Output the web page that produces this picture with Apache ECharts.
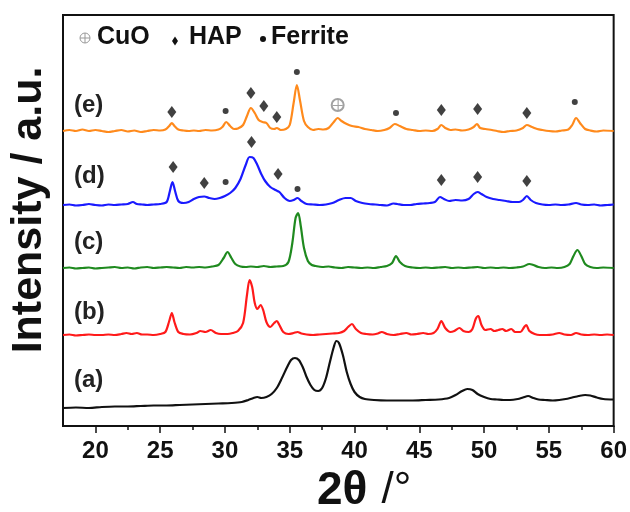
<!DOCTYPE html>
<html><head><meta charset="utf-8">
<script src="https://cdn.jsdelivr.net/npm/echarts@6/dist/echarts.min.js"></script>
<style>html,body{margin:0;padding:0;background:#fff}#c{width:630px;height:512px}</style>
</head><body><div id="c"></div>
<script>
// ---- data (2θ in degrees, intensity in arbitrary units above each pattern's baseline) ----
const patternLabels = ['(e)', '(d)', '(c)', '(b)', '(a)'];
const patternOffsets = [295, 221, 158, 91, 18];
const xTicks = [20, 25, 30, 35, 40, 45, 50, 55, 60];
const xMinorTicks = [22.5, 27.5, 32.5, 37.5, 42.5, 47.5, 52.5, 57.5];

const patternE = [[17.5,0],[18,1],[18.5,0],[19,1.5],[19.5,0],[20,1],[20.5,0],[21,-1],[21.5,0],[22,1],[22.5,-0.5],[23,0.5],[23.5,-1],[24,0],[24.5,1],[25,0.5],[25.4,1.5],[25.7,5],[25.9,8],[26.1,5],[26.4,1.5],[26.8,0.5],[27.2,0],[27.6,0.5],[28,0],[28.5,1],[29,0.5],[29.5,1.5],[29.8,4],[30.1,9],[30.4,5],[30.7,2],[31,2.5],[31.4,6],[31.7,15],[32,23],[32.3,18],[32.6,11],[32.9,9],[33.2,8],[33.5,3],[33.8,2],[34,3],[34.3,1],[34.7,2],[35,6],[35.3,28],[35.55,46],[35.8,30],[36.1,10],[36.4,4],[36.8,1],[37.2,2],[37.6,1.5],[38,3],[38.4,9],[38.7,13],[39,10],[39.4,7],[39.8,5],[40.3,4],[40.8,2],[41.3,1],[41.8,0],[42.3,1],[42.7,3],[43.1,7],[43.5,5],[44,2],[44.5,1],[45,0],[45.5,0.5],[46,0],[46.4,2],[46.7,6],[47,3],[47.4,1],[47.8,1.5],[48.3,0.5],[48.8,1.5],[49.2,4],[49.45,7],[49.7,3],[50.1,2],[50.6,1],[51,0],[51.5,-1],[52,0],[52.5,0.5],[53,3],[53.3,6],[53.7,4],[54.1,2],[54.5,1],[55,0],[55.5,-0.5],[56,0.5],[56.5,1.5],[56.8,6],[57.1,13],[57.4,8],[57.8,2],[58.2,0.5],[58.7,-0.5],[59.2,0.5],[60,0]];

const patternD = [[17.5,0],[18,0.5],[18.5,-0.5],[19,0],[19.5,1],[20,0],[20.5,-0.5],[21,0.5],[21.5,0],[22,0.5],[22.5,1],[22.9,3],[23.2,1],[23.6,0.5],[24,0],[24.5,0.5],[25,1],[25.5,3],[25.75,14],[25.95,23],[26.15,14],[26.4,4],[26.8,2],[27.2,3],[27.6,6],[28,8],[28.4,8.5],[28.8,7],[29.2,6],[29.6,7],[30,9],[30.4,12],[30.8,17],[31.2,26],[31.6,40],[31.9,48],[32.2,47],[32.5,40],[32.8,31],[33.1,24],[33.5,18],[33.9,15],[34.2,13],[34.6,7],[35,4],[35.3,5],[35.6,7],[35.9,4],[36.3,1],[36.8,0.5],[37.3,0],[37.8,0.5],[38.3,2],[38.8,5],[39.3,7],[39.7,7],[40.1,4],[40.6,2],[41.1,1],[41.6,0.5],[42,0],[42.5,-0.5],[43,1.5],[43.3,1],[43.8,0],[44.3,0],[44.8,1],[45.3,1.5],[45.8,2],[46.2,3],[46.6,8],[46.9,6],[47.3,4],[47.8,5],[48.3,4.5],[48.8,6],[49.2,11],[49.5,13],[49.8,11],[50.2,8],[50.7,6],[51.2,5],[51.7,4],[52.2,3],[52.7,3],[53,5],[53.3,9],[53.6,5],[54,2],[54.5,0.5],[55,0],[55.5,0.5],[56,0],[56.5,0.5],[57.1,2],[57.5,0.5],[58,0],[58.5,0.5],[59,-0.5],[59.5,0],[60,0.5]];

const patternC = [[17.5,0],[18,0.5],[18.5,-0.5],[19,0],[19.5,0.5],[20,-0.5],[20.5,0],[21,0.5],[21.5,1],[22,0],[22.5,0.5],[23,-0.5],[23.5,0.5],[24,1],[24.5,0],[25,0.5],[25.5,1],[26,0.5],[26.5,0],[27,1],[27.5,0.5],[28,1],[28.5,0.5],[29,1.5],[29.5,3],[29.9,10],[30.2,16],[30.5,10],[30.8,4],[31.2,1.5],[31.6,1],[32,1.5],[32.5,1],[33,2],[33.5,1],[34,1.5],[34.5,2],[34.9,6],[35.2,25],[35.45,50],[35.65,55],[35.85,42],[36.1,20],[36.4,7],[36.7,3],[37,2],[37.5,1],[38,1.5],[38.5,0.5],[39,0],[39.5,1],[40,0.5],[40.5,0],[41,0.5],[41.5,0],[42,1],[42.5,2],[42.9,5],[43.2,12],[43.5,6],[43.9,2],[44.5,0.5],[45,0],[45.5,0.5],[46,0],[46.5,0.5],[47,1],[47.5,0],[48,0.5],[48.5,0],[49,0.5],[49.5,1],[50,0],[50.5,0.5],[51,0],[51.5,0.5],[52,0],[52.5,0.5],[53,1.5],[53.5,4],[53.8,3],[54.2,1],[54.7,0],[55.2,0.5],[55.7,0],[56.2,1],[56.6,4],[56.9,12],[57.2,18],[57.5,12],[57.8,4],[58.2,1],[58.7,0],[59.2,0.5],[60,0]];

const patternB = [[17.5,0],[18,0.5],[18.5,-0.5],[19,0],[19.5,0.5],[20,0],[20.5,0],[21,0.5],[21.5,0],[22,1],[22.4,2],[22.8,1],[23.2,2],[23.6,0.5],[24,0.5],[24.5,0],[25,1],[25.4,3],[25.7,14],[25.9,22],[26.1,13],[26.4,3],[26.8,1],[27.3,0.5],[27.8,2],[28.1,4],[28.5,3],[28.9,5],[29.3,2],[29.7,1],[30.2,1],[30.6,2],[31,4],[31.4,12],[31.7,40],[31.9,55],[32.1,48],[32.3,32],[32.5,26],[32.75,30],[32.95,25],[33.2,13],[33.5,8],[33.8,12],[34,14],[34.2,10],[34.5,3],[34.9,1],[35.3,2],[35.6,3],[35.9,1.5],[36.3,0.5],[36.8,0],[37.3,0.5],[37.8,1],[38.3,1.5],[38.8,2],[39.2,4],[39.5,8],[39.8,11],[40.1,6],[40.5,2],[40.9,1],[41.4,0.5],[41.8,1.5],[42.1,3],[42.5,1],[43,0],[43.5,1],[44,2],[44.4,0.5],[44.8,1],[45.3,2],[45.7,1],[46.1,2],[46.4,6],[46.7,14],[47,7],[47.4,3],[47.7,4],[48.1,7],[48.4,4],[48.8,3],[49.1,6],[49.35,16],[49.55,19],[49.8,10],[50.1,5],[50.5,6],[50.8,4],[51.1,5],[51.4,6],[51.7,4],[52.1,6],[52.4,3],[52.8,3],[53.1,8],[53.25,10],[53.5,4],[53.9,1],[54.3,0],[54.8,0],[55.3,0.5],[55.8,2],[56.2,0.5],[56.7,0],[57.1,2],[57.5,0.5],[58,0],[58.5,0.5],[59,0],[59.5,0.5],[60,0]];

const patternA = [[17.5,0],[18.5,0.5],[19.5,0],[20.5,1],[21.5,1.5],[22.5,1.5],[23.5,2],[24.5,2.5],[25.5,2.5],[26.5,3],[27.5,3.5],[28.5,4],[29.5,4.5],[30.5,5],[31.3,6],[31.8,8],[32.2,10],[32.5,11],[32.8,10],[33.2,11],[33.6,14],[34,20],[34.4,30],[34.8,41],[35.1,48],[35.4,50],[35.7,48],[36,41],[36.3,31],[36.6,23],[36.9,18],[37.2,17],[37.5,20],[37.8,30],[38.1,46],[38.4,61],[38.6,67],[38.8,65],[39.1,53],[39.4,36],[39.7,24],[40,16],[40.4,11],[40.8,9],[41.5,8],[42.5,7.5],[43.5,7.5],[44.5,7.5],[45.5,8],[46.5,8.5],[47.3,10],[47.8,13],[48.3,17],[48.7,19],[49.1,18],[49.5,14],[50,11],[50.5,9],[51,8.5],[51.5,8],[52,8],[52.6,9],[53,10.5],[53.4,12],[53.8,10],[54.2,8.5],[54.7,8],[55.3,7.5],[55.8,8],[56.3,9],[56.8,10.5],[57.3,12],[57.8,13],[58.2,12.5],[58.7,10.5],[59.2,9],[60,8.5]];

// phase markers: [2θ, plotted level]
const hapMarks = [[25.9,314],[32.0,333],[33.0,320],[34.0,309],[46.7,316],[49.5,317],[53.3,313],
                  [26.0,259],[28.4,243],[32.05,284],[34.1,252],[46.7,246],[49.5,249],[53.3,245]];
const ferriteMarks = [[30.05,315],[35.55,354],[43.2,313],[57.0,324],[30.05,244],[35.6,237]];
const cuoMarks = [[38.7,321]];

const patterns = [patternE, patternD, patternC, patternB, patternA];
const colors = ['#ff8a1c', '#1a1aff', '#1f8a1f', '#ff1a1a', '#111111'];
const FONT = '"Liberation Sans", Arial, sans-serif';

const chart = echarts.init(document.getElementById('c'), null, {renderer: 'canvas'});
const series = patterns.map((p, i) => ({
  type: 'line', name: patternLabels[i], showSymbol: false, smooth: 0.3,
  data: p.map(([x, v]) => [x, v + patternOffsets[i]]),
  lineStyle: {color: colors[i], width: 2.2}, itemStyle: {color: colors[i]},
  silent: true, z: 2
}));
series.push({type: 'scatter', data: hapMarks, symbol: 'diamond', symbolSize: [9, 12], itemStyle: {color: '#111'}, z: 3, silent: true});
series.push({type: 'scatter', data: ferriteMarks, symbol: 'circle', symbolSize: 6, itemStyle: {color: '#111'}, z: 3, silent: true});
series.push({type: 'scatter', data: cuoMarks, symbol: 'emptyCircle', symbolSize: 12, itemStyle: {color: '#8a8a8a', borderWidth: 1.2}, z: 3, silent: true});
series.push({type: 'scatter', data: cuoMarks, symbol: 'path://M0,5.4 L11,5.4 L11,6.6 L0,6.6 Z M5.4,0 L6.6,0 L6.6,11 L5.4,11 Z', symbolSize: 10, itemStyle: {color: '#8a8a8a'}, z: 4, silent: true});

const labelY = [105, 176, 242, 312, 380];
const graphics = patternLabels.map((t, i) => ({
  type: 'text', x: 74, y: labelY[i],
  style: {text: t, font: 'bold 24px ' + FONT, fill: '#222', textAlign: 'left', textVerticalAlign: 'middle'}
}));
const legendText = (t, x) => ({type: 'text', x: x, y: 37,
  style: {text: t, font: 'bold 25px ' + FONT, fill: '#111', textAlign: 'left', textVerticalAlign: 'middle'}});
graphics.push(
  {type: 'circle', shape: {cx: 85, cy: 38, r: 5}, style: {fill: '#fff', stroke: '#999', lineWidth: 1}},
  {type: 'line', shape: {x1: 80, y1: 38, x2: 90, y2: 38}, style: {stroke: '#999', lineWidth: 1}},
  {type: 'line', shape: {x1: 85, y1: 33, x2: 85, y2: 43}, style: {stroke: '#999', lineWidth: 1}},
  legendText('CuO', 97),
  {type: 'polygon', shape: {points: [[175, 36.5], [178, 41], [175, 45.5], [172, 41]]}, style: {fill: '#111'}},
  legendText('HAP', 189),
  {type: 'circle', shape: {cx: 263, cy: 39, r: 3}, style: {fill: '#111'}},
  legendText('Ferrite', 271),
  {type: 'text', x: 29, y: 210, rotation: Math.PI / 2,
   style: {text: 'Intensity / a.u.', font: 'bold 43px ' + FONT, fill: '#111', textAlign: 'center', textVerticalAlign: 'middle'}},
  {type: 'text', x: 317, y: 491, style: {
      text: '{b|2θ}{n|/°}', textAlign: 'left', textVerticalAlign: 'middle',
      rich: {
        b: {font: 'bold 46px ' + FONT, fill: '#111'},
        n: {font: '44px ' + FONT, fill: '#111', padding: [0, 0, 0, 14]}
      }}}
);

chart.setOption({
  animation: false,
  grid: {left: 63, right: 14, top: 15, bottom: 86, show: true, borderColor: '#111', borderWidth: 2, backgroundColor: 'transparent'},
  xAxis: [{
    type: 'value', min: 17.5, max: 60,
    axisLine: {show: true, lineStyle: {color: '#111', width: 2}},
    axisTick: {show: true, inside: false, length: 7, lineStyle: {color: '#111', width: 1.5}, customValues: xTicks},
    splitLine: {show: false},
    axisLabel: {show: true, color: '#111', fontSize: 24, fontWeight: 'bold', fontFamily: FONT, margin: 13, customValues: xTicks}
  }, {
    type: 'value', min: 17.5, max: 60, position: 'bottom',
    axisLine: {show: false},
    axisTick: {show: true, inside: false, length: 4, lineStyle: {color: '#111', width: 1.5}, customValues: xMinorTicks},
    splitLine: {show: false},
    axisLabel: {show: false}
  }],
  yAxis: {type: 'value', min: 0, max: 411, show: false, splitLine: {show: false}},
  series: series,
  graphic: graphics
});
</script></body></html>
